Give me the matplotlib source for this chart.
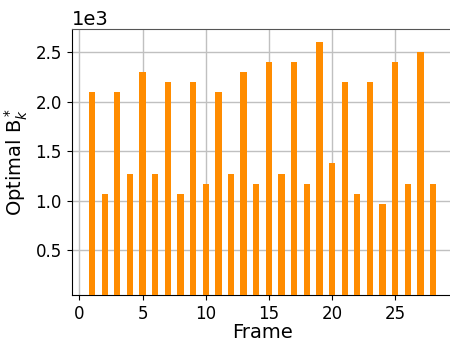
import matplotlib
matplotlib.use('Agg')
import matplotlib.pyplot as plt
import numpy as np

# optimal batch size per frame
frames = np.arange(1, 29)
optimal_b = [2100, 1070, 2100, 1270, 2300, 1270, 2200, 1070, 2200, 1170,
             2100, 1270, 2300, 1170, 2400, 1270, 2400, 1170, 2600, 1380,
             2200, 1070, 2200, 970, 2400, 1170, 2500, 1170]

fig = plt.figure(figsize=(4.5, 3.39), dpi=100)
ax = fig.add_axes([0.159, 0.13, 0.849, 0.784])

ax.bar(frames, optimal_b, width=0.5, color='darkorange', zorder=3)
ax.grid(True, color='#c0c0c0', linewidth=1.0, zorder=0)
ax.set_axisbelow(True)

ax.set_xlim(-0.625, 29.625)
ax.set_ylim(50, 2730)
ax.ticklabel_format(axis='y', style='sci', scilimits=(3, 3))
ax.yaxis.get_offset_text().set_fontsize(14)

ax.tick_params(labelsize=12)
ax.set_xlabel('Frame', fontsize=14, labelpad=0)
ax.set_ylabel('Optimal B$_k^*$', fontsize=14)

ax.spines['top'].set_color('#555555')

plt.savefig('out.png', dpi=100)
